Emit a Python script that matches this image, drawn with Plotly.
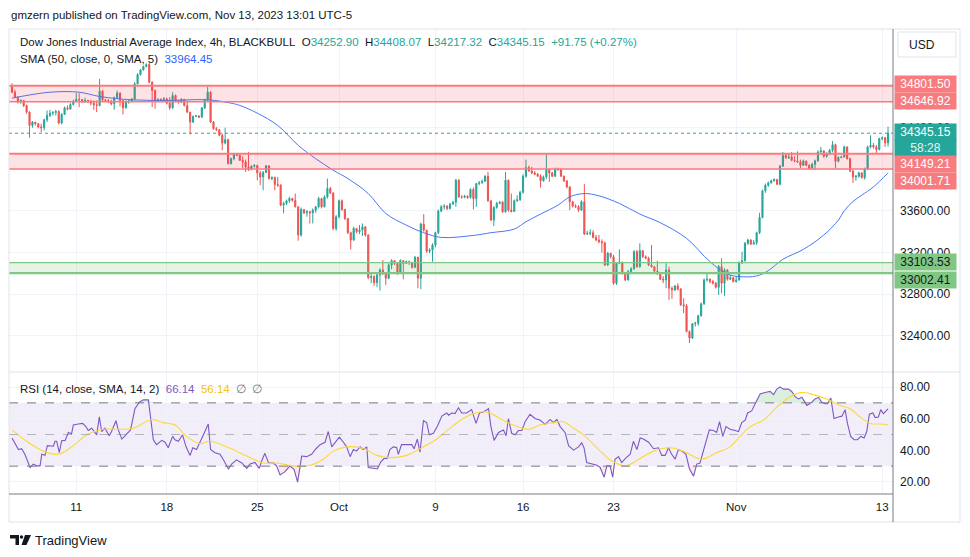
import plotly.graph_objects as go

W, H = 970, 557
UP, DOWN = "#26a69a", "#ef5350"

# ---- 4h candles (open = previous close) ----
first_open = 34803
closes = [
    34739, 34691, 34644, 34660, 34612, 34548, 34420, 34452, 34436, 34404,
    34398, 34474, 34516, 34538, 34545, 34554, 34443, 34526, 34589, 34577,
    34621, 34653, 34669, 34666, 34653, 34660, 34650, 34634, 34618, 34612,
    34749, 34666, 34660, 34650, 34628, 34685, 34730, 34660, 34589, 34644,
    34653, 34672, 34819, 34908, 34953, 34985, 35004, 34835, 34755, 34653,
    34669, 34666, 34675, 34634, 34589, 34707, 34660, 34644, 34669, 34612,
    34548, 34452, 34506, 34510, 34500, 34589, 34666, 34739, 34452, 34388,
    34379, 34325, 34251, 34283, 34053, 34101, 34143, 34133, 34085, 34069,
    34022, 33996, 34028, 34037, 33964, 33926, 33967, 34031, 33910, 33920,
    33852, 33846, 33655, 33671, 33696, 33718, 33702, 33639, 33368, 33613,
    33581, 33591, 33581, 33607, 33639, 33718, 33639, 33734, 33814, 33773,
    33431, 33543, 33696, 33613, 33527, 33390, 33320, 33431, 33400, 33415,
    33447, 33368, 32959, 32969, 32911, 32985, 33033, 32994, 32953, 33080,
    33122, 33096, 33001, 33122, 33096, 33112, 33103, 33058, 33154, 32953,
    33473, 33415, 33211, 33224, 33272, 33390, 33597, 33639, 33645, 33623,
    33664, 33683, 33894, 33734, 33731, 33741, 33728, 33805, 33718, 33862,
    33868, 33884, 33932, 33696, 33511, 33632, 33671, 33683, 33591, 33894,
    33607, 33594, 33696, 33706, 33779, 33932, 34015, 33983, 33964, 33951,
    33932, 33888, 33926, 33996, 33964, 33932, 34002, 33999, 33932, 33888,
    33830, 33687, 33645, 33639, 33607, 33687, 33377, 33384, 33390, 33345,
    33320, 33304, 33294, 33080, 33192, 33160, 32905, 33096, 33109, 33001,
    32937, 33017, 33045, 33208, 33064, 33218, 33160, 33144, 33080, 33064,
    33020, 32994, 32943, 32937, 33033, 32857, 32841, 32879, 32848, 32698,
    32688, 32442, 32379, 32516, 32522, 32592, 32707, 32937, 32943, 32921,
    32905, 32867, 33064, 32905, 33033, 32943, 32959, 32921, 32937, 33103,
    33122, 33288, 33320, 33282, 33294, 33390, 33537, 33792, 33846, 33868,
    33888, 33900, 33856, 34028, 34133, 34111, 34117, 34085, 34079, 34069,
    34037, 34079, 34037, 34006, 34047, 34079, 34165, 34175, 34124, 34143,
    34181, 34235, 34076, 34111, 34117, 34213, 34101, 33983, 33926, 33932,
    33964, 33919, 34002, 34213, 34229, 34213, 34188, 34293, 34302, 34252.90,
    34345.15,
]
highs = [
    34825, 34762, 34700, 34672, 34660, 34620, 34555, 34462, 34452, 34443,
    34436, 34484, 34564, 34570, 34557, 34570, 34565, 34538, 34602, 34612,
    34634, 34666, 34730, 34730, 34675, 34685, 34666, 34666, 34660, 34660,
    34867, 34762, 34675, 34672, 34666, 34698, 34755, 34739, 34666, 34660,
    34666, 34685, 34835, 34921, 34963, 34994, 35017, 35023, 34845, 34765,
    34682, 34682, 34691, 34685, 34691, 34739, 34717, 34666, 34682, 34675,
    34660, 34548, 34516, 34522, 34519, 34596, 34675, 34793, 34749, 34462,
    34404, 34385, 34340, 34398, 34293, 34111, 34149, 34149, 34143, 34124,
    34092, 34165, 34037, 34047, 34037, 33983, 33983, 34041, 34040, 33932,
    33930, 33926, 33856, 33687, 33709, 33734, 33725, 33766, 33639, 33632,
    33613, 33607, 33600, 33623, 33645, 33734, 33725, 33750, 33910, 33830,
    33773, 33559, 33709, 33709, 33620, 33527, 33400, 33447, 33431, 33463,
    33479, 33454, 33374, 32994, 32982, 33001, 33049, 33128, 33007, 33096,
    33135, 33128, 33109, 33135, 33128, 33122, 33122, 33112, 33167, 33160,
    33486, 33568, 33415, 33240, 33288, 33400, 33613, 33655, 33664, 33655,
    33677, 33696, 33907, 33905, 33750, 33753, 33747, 33817, 33824, 33868,
    33888, 33900, 33942, 33974, 33702, 33645, 33687, 33696, 33696, 33974,
    33900, 33766, 33709, 33750, 33792, 33951, 34092, 34034, 34022, 33983,
    33964, 33951, 33939, 34149, 34006, 33974, 34015, 34015, 34002, 33939,
    33894, 33837, 33696, 33664, 33655, 33702, 33856, 33409, 33422, 33415,
    33368, 33368, 33326, 33304, 33205, 33198, 33176, 33109, 33230, 33109,
    33007, 33033, 33058, 33224, 33224, 33288, 33224, 33173, 33160, 33272,
    33071, 33122, 33014, 32975, 33096, 33064, 32873, 32889, 32905, 32860,
    32761, 32707, 32452, 32522, 32535, 32602, 32720, 32950, 33001, 32953,
    32937, 32918, 33080, 33144, 33049, 33039, 32985, 32962, 32975, 33115,
    33208, 33301, 33332, 33326, 33320, 33400, 33581, 33805, 33862, 33881,
    33900, 33913, 33907, 34041, 34165, 34143, 34143, 34165, 34124, 34171,
    34092, 34092, 34079, 34047, 34060, 34092, 34181, 34213, 34181, 34162,
    34194, 34270, 34245, 34124, 34130, 34226, 34219, 34111, 33990, 33945,
    33977, 33971, 34015, 34226, 34325, 34251, 34232, 34302, 34315, 34309,
    34408.07,
]
lows = [
    34730, 34685, 34630, 34628, 34596, 34532, 34302, 34398, 34420, 34392,
    34356, 34372, 34452, 34500, 34516, 34516, 34430, 34430, 34526, 34564,
    34570, 34612, 34644, 34596, 34634, 34634, 34634, 34612, 34570, 34548,
    34602, 34653, 34644, 34634, 34612, 34570, 34675, 34602, 34526, 34580,
    34628, 34644, 34660, 34813, 34899, 34947, 34978, 34825, 34596, 34580,
    34644, 34653, 34660, 34621, 34570, 34580, 34644, 34628, 34634, 34602,
    34538, 34334, 34443, 34500, 34490, 34492, 34580, 34655, 34443, 34379,
    34366, 34315, 34181, 34238, 34047, 34045, 34085, 34124, 34079, 34006,
    33974, 33983, 33990, 34015, 33894, 33846, 33798, 33964, 33900, 33894,
    33798, 33830, 33645, 33575, 33655, 33677, 33687, 33632, 33313, 33352,
    33569, 33543, 33479, 33479, 33581, 33623, 33623, 33632, 33718, 33760,
    33415, 33409, 33527, 33600, 33511, 33377, 33230, 33313, 33384, 33377,
    33358, 33352, 32943, 32905, 32879, 32867, 32835, 32985, 32889, 32943,
    33039, 33080, 32985, 32994, 32943, 33090, 33080, 33045, 33050, 32857,
    32848, 33400, 33198, 33192, 33112, 33250, 33377, 33588, 33613, 33607,
    33613, 33661, 33639, 33725, 33718, 33722, 33715, 33718, 33613, 33639,
    33846, 33862, 33878, 33687, 33505, 33454, 33620, 33664, 33581, 33581,
    33591, 33585, 33591, 33687, 33696, 33766, 33919, 33974, 33951, 33942,
    33926, 33824, 33881, 33907, 33878, 33926, 33926, 33983, 33926, 33878,
    33817, 33607, 33632, 33626, 33591, 33600, 33368, 33368, 33364, 33336,
    33307, 33288, 33198, 33071, 33071, 33144, 32889, 32889, 33090, 32988,
    32924, 32930, 33007, 33033, 33052, 33055, 33147, 33135, 33071, 33055,
    33014, 32985, 32937, 32905, 32857, 32745, 32755, 32830, 32835, 32688,
    32618, 32433, 32331, 32370, 32490, 32497, 32586, 32698, 32921, 32905,
    32892, 32854, 32793, 32809, 32784, 32930, 32935, 32911, 32911, 32930,
    33090, 33112, 33272, 33272, 33275, 33272, 33377, 33527, 33773, 33830,
    33862, 33881, 33846, 33846, 34022, 34098, 34098, 34076, 34066, 34060,
    34006, 34034, 34028, 33996, 34003, 33990, 34073, 34159, 34111, 34111,
    34136, 34162, 34006, 34066, 34105, 34111, 34092, 33971, 33868, 33888,
    33919, 33910, 33900, 33990, 34200, 34197, 34156, 34181, 34277, 34213,
    34217.32,
]
opens = [first_open] + closes[:-1]
bars = list(range(len(closes)))

# ---- SMA 50 ----
sma_t = [0, 13, 23, 30, 41, 53, 67, 75, 78, 84, 91, 98, 104, 110, 115, 122, 128,
         135, 141, 147, 158, 164, 172, 176, 181, 187, 191, 196, 201, 208, 215, 222,
         231, 239, 245, 249, 255, 259, 264, 271, 278, 283, 285, 288, 291, 295, 300]
sma_v = [34682, 34739, 34739, 34698, 34666, 34660, 34666, 34634, 34612, 34538, 34420,
         34229, 34101, 33990, 33910, 33766, 33575, 33463, 33390, 33345, 33364, 33390,
         33425, 33495, 33569, 33655, 33734, 33766, 33744, 33671, 33569, 33486, 33336,
         33112, 32994, 32969, 32975, 33026, 33135, 33230, 33368, 33511, 33600, 33690,
         33750, 33830, 33964.45]

# ---- RSI 14 and its SMA 14 ----
rsi_t = [0, 2.2, 3.3, 4.4, 6.2, 7.3, 8.4, 9.6, 10.2, 11.3, 12.1, 13, 14.2, 14.7, 15.3,
         16.2, 17, 18.2, 19.3, 20.4, 21, 22.7, 24.2, 25.3, 26.1, 27.3, 29, 29.9, 30.7,
         31.8, 33.3, 34.1, 35.6, 36.4, 37.6, 39, 40.6, 42.1, 43.6, 45, 46.7, 48.4, 49.5,
         51.3, 52.4, 53.5, 55, 55.8, 57, 58.4, 59.6, 61, 61.9, 63.2, 64.2, 65, 65.8,
         67.2, 68, 69.5, 71.2, 72.4, 74.1, 75.2, 76.9, 78.7, 80.4, 81.5, 83.2, 84.7,
         85.5, 86.6, 87.8, 89.5, 90.6, 91.8, 93.5, 95.2, 96.6, 97.8, 99.2, 100.9, 102.6,
         104.1, 105.5, 107.2, 108.3, 109.5, 110.6, 112.1, 113.5, 114.6, 115.8, 116.9,
         118, 119.2, 120.3, 121.5, 122, 123.5, 125.1, 126.3, 127.4, 128.5, 129.4, 130.6,
         131.7, 132.3, 133.4, 135.4, 136.9, 137.7, 138.8, 139.7, 140.9, 142, 142.9,
         144.3, 145.7, 147.2, 148.9, 149.5, 150.6, 151.7, 152.9, 154, 155.7, 157.4,
         158.9, 160.1, 161.4, 163.2, 164, 165.1, 166.6, 168.3, 169.2, 170, 171.1, 172.3,
         173.4, 174.6, 175.7, 177.4, 179.1, 180.8, 182.6, 184.3, 185.4, 186.6, 187.7,
         189.4, 190.6, 192.3, 194, 195.1, 195.9, 196.8, 198.5, 200.3, 201.4, 202.8,
         203.7, 204.8, 205.7, 206.5, 207.7, 208.8, 210, 211.7, 212.8, 214, 215.1, 216.2,
         218, 219.7, 221.4, 222.5, 223.7, 224.8, 225.9, 227.1, 228.2, 229.4, 230.8, 232,
         233.4, 234.5, 235.6, 236.8, 237.9, 238.8, 240.2, 241.3, 242.3, 243.4, 244.5,
         245.9, 247.6, 248.8, 249.9, 251.1, 251.9, 253.3, 254.5, 256.2, 257.9, 259.6,
         260.8, 261.9, 263, 264.2, 265.9, 267, 268.2, 269.3, 270.5, 272.2, 273.9, 275,
         276.2, 277.3, 278.5, 279.3, 280.4, 281.5, 283, 284.2, 285.3, 286.1, 287.2,
         288.4, 289.5, 290.7, 291.8, 292.7, 293.6, 294.8, 295.6, 296.7, 297.5, 298.4, 300]
rsi_v = [47.8, 40.5, 41, 37.5, 29.2, 31.3, 30.2, 30.2, 37.5, 36.8, 43, 43, 42.6, 45.7, 45.7,
         38.5, 46.1, 46.3, 51.3, 50.5, 56, 56.6, 57, 55, 52.5, 54, 49.8, 61.1, 51.9,
         54, 49.2, 51.9, 58.7, 52.9, 47.1, 49.8, 52.9, 66.3, 70.4, 71.9, 71.9, 46.7, 43.6,
         46.3, 45.1, 41.6, 48.8, 46.7, 45.7, 49.8, 42.2, 36.8, 41.6, 40.5, 44.2, 47.8, 50.8,
         56.6, 40.5, 38.5, 37.5, 34, 28.2, 31.3, 34, 32, 28.6, 31.3, 32.3, 28.6,
         33.3, 38.1, 32.3, 32, 30.2, 24.5, 26.5, 30.2, 27.8, 19.9, 36.4, 36, 37.5,
         41, 43.6, 45.1, 51.9, 42.2, 44.7, 48.4, 45.1, 42.2, 36, 40.5,
         39.5, 42.2, 40.5, 42.2, 29.2, 28.6, 28.2, 32.7, 34.8, 34.8, 40.5, 42.2,
         41.8, 37.5, 43.6, 43.6, 43.6, 41, 47.1, 38.9, 58.7, 57.5, 49.8,
         50.8, 55.4, 61.6, 63.6, 62.2, 63.6, 63.2, 66.9, 63.6, 63.6, 65.7,
         57, 63.6, 64.2, 66.3, 55, 46.3, 51.3, 52.9, 49.2, 60.1, 50.8, 49.8,
         52.5, 52.5, 58.1, 62.8, 60.1, 59.1, 56.4, 59.5, 57.5, 59.5, 55,
         51.3, 43, 40.1, 42.2, 44.7, 41.6, 32.3, 31.3, 30.6, 29.2, 23,
         30.2, 30.2, 23, 34.4, 36, 32.3, 34.8, 37.5, 45.7, 40.5, 47.8, 47.1,
         45.1, 41, 41.6, 36.8, 36.8, 41.6, 37.5, 34.4, 40.5, 39.5, 37.5, 28.2,
         23.7, 31.3, 32, 39.5, 45.7, 52.9, 52.5, 51.3, 58.1, 48.8, 55,
         53.3, 52.5, 51.9, 57.5, 59.1, 63.6, 64.9, 69.4, 75.6, 76.6, 77.2,
         75.2, 78.7, 80.1, 78.7, 78.7, 77.2, 73.9, 72.5, 73.5, 68.4, 70.4, 72.5,
         73.5, 70.4, 69.4, 69.4, 73.1, 60.1, 61.1, 61.6, 65.7, 57, 48.8,
         46.7, 46.7, 48.8, 47.8, 51.9, 62.8, 63.6, 60.7, 61.1, 65.7, 63.2, 66.14]
rsi_ma_t = [0, 5, 10.7, 15.9, 21, 25.6, 31.3, 37, 41.6, 47.8, 51.8, 55.8, 59.8, 64.4, 67.8,
            73.5, 80.4, 86.1, 90.6, 96.4, 102.1, 106.6, 110, 114.6, 120.3, 124.9, 128.9,
            135.2, 139.7, 144.3, 146.6, 150, 154, 158, 162.6, 167.1, 171.7, 176.9, 180.8,
            185.4, 188.8, 192.3, 195.7, 200.3, 204.8, 210, 215.1, 219.7, 225.4, 229.9,
            236.2, 241.3, 245.9, 249.3, 252.8, 257.3, 261.9, 266.5, 270.5, 274.5, 279,
            283.6, 287, 290.4, 293.9, 297.3, 300]
rsi_ma_v = [52.9, 45.7, 39.5, 37.5, 43, 49.8, 53.3, 53.3, 54, 59.5, 57.5, 56, 48.8, 44.2, 45.7,
            42.2, 36.4, 32, 32, 30.2, 30.6, 34.4, 39.5, 42.2, 41.2, 36.8, 35.4,
            36.8, 41, 45.7, 48.8, 54, 59.5, 63.2, 64.2, 60.1, 56, 53.3, 56,
            57.5, 58.1, 54, 49.8, 41.6, 34, 30.2, 34.8, 39.5, 41.6, 39.5,
            34.4, 38.5, 42.2, 48.8, 55, 59.1, 67.3, 73.9, 76.6, 75.2, 72.5,
            68.4, 66.3, 61.1, 57, 56.6, 56.14]

tick_bars = [22, 53, 84, 112, 145, 175, 206, 248, 298]
tick_text = ["11", "18", "25", "Oct", "9", "16", "23", "Nov", "13"]
price_ticks = [32400, 32800, 33200, 33600, 34000, 34400, 34800]
hidden_price_ticks = [34000, 34800]   # covered by the zone labels on the price scale
rsi_ticks = [20, 40, 60, 80]

red_zones = [(34646.92, 34801.50), (34001.71, 34149.21)]
green_zone = (33002.41, 33103.53)


def px(x):
    return x / W


def py(y):
    return 1 - y / H


X0, X1, XR = 9, 893, 960
TOP, SEP, BOT, FOOT = 29, 372, 494, 522

fig = go.Figure()
fig.add_trace(go.Candlestick(
    x=bars, open=opens, high=highs, low=lows, close=closes,
    increasing=dict(line=dict(color=UP, width=1), fillcolor=UP),
    decreasing=dict(line=dict(color=DOWN, width=1), fillcolor=DOWN),
    whiskerwidth=0, xaxis="x", yaxis="y", hoverinfo="skip"))
fig.add_trace(go.Scatter(x=sma_t, y=sma_v, mode="lines", xaxis="x", yaxis="y",
                         line=dict(color="#4a78f5", width=1, shape="spline")))

# RSI overbought / oversold fills
fig.add_trace(go.Scatter(x=rsi_t, y=[70] * len(rsi_t), mode="lines", line=dict(width=0),
                         xaxis="x2", yaxis="y2"))
fig.add_trace(go.Scatter(x=rsi_t, y=[max(v, 70) for v in rsi_v], mode="lines",
                         line=dict(width=0), fill="tonexty",
                         fillcolor="rgba(76,175,80,0.2)", xaxis="x2", yaxis="y2"))
fig.add_trace(go.Scatter(x=rsi_t, y=[30] * len(rsi_t), mode="lines", line=dict(width=0),
                         xaxis="x2", yaxis="y2"))
fig.add_trace(go.Scatter(x=rsi_t, y=[min(v, 30) for v in rsi_v], mode="lines",
                         line=dict(width=0), fill="tonexty",
                         fillcolor="rgba(242,54,69,0.12)", xaxis="x2", yaxis="y2"))
fig.add_trace(go.Scatter(x=rsi_t, y=rsi_v, mode="lines", xaxis="x2", yaxis="y2",
                         line=dict(color="#7e57c2", width=1.1)))
fig.add_trace(go.Scatter(x=rsi_ma_t, y=rsi_ma_v, mode="lines", xaxis="x2", yaxis="y2",
                         line=dict(color="#fdd835", width=1.1, shape="spline")))

shapes = []
# zones
for lo, hi in red_zones:
    shapes.append(dict(type="rect", xref="x domain", yref="y", x0=0, x1=1, y0=lo, y1=hi,
                       fillcolor="rgba(242,54,69,0.14)", line=dict(width=0), layer="above"))
    shapes.append(dict(type="line", xref="x domain", yref="y", x0=0, x1=1, y0=hi, y1=hi,
                       line=dict(color="#f77c80", width=2), layer="above"))
    shapes.append(dict(type="line", xref="x domain", yref="y", x0=0, x1=1, y0=lo, y1=lo,
                       line=dict(color="#f77c80", width=1.6), layer="above"))
lo, hi = green_zone
shapes.append(dict(type="rect", xref="x domain", yref="y", x0=0, x1=1, y0=lo, y1=hi,
                   fillcolor="rgba(76,175,80,0.14)", line=dict(width=0), layer="above"))
shapes.append(dict(type="line", xref="x domain", yref="y", x0=0, x1=1, y0=hi, y1=hi,
                   line=dict(color="#81c784", width=1.2), layer="above"))
shapes.append(dict(type="line", xref="x domain", yref="y", x0=0, x1=1, y0=lo, y1=lo,
                   line=dict(color="#81c784", width=2.4), layer="above"))
# last price dotted line
shapes.append(dict(type="line", xref="x domain", yref="y", x0=0, x1=1,
                   y0=closes[-1], y1=closes[-1], line=dict(color=UP, width=1, dash="dot")))
# RSI band and levels
shapes.append(dict(type="rect", xref="x2 domain", yref="y2", x0=0, x1=1, y0=30, y1=70,
                   fillcolor="rgba(126,87,194,0.1)", line=dict(width=0), layer="below"))
for lvl, col in [(70, "#787b86"), (50, "rgba(120,123,134,0.5)"), (30, "#787b86")]:
    shapes.append(dict(type="line", xref="x2 domain", yref="y2", x0=0, x1=1, y0=lvl, y1=lvl,
                       line=dict(color=col, width=1, dash="dash")))
# frame
light, dark = "#e0e3eb", "#787b86"
for (xa, ya, xb, yb, c) in [
    (X0, TOP, XR, TOP, light), (X0, SEP, XR, SEP, light), (X0, FOOT, XR, FOOT, light),
    (X0, TOP, X0, FOOT, light), (XR, TOP, XR, FOOT, light),
    (X0, BOT, X1, BOT, dark), (X1, TOP, X1, FOOT, dark)]:
    shapes.append(dict(type="line", xref="paper", yref="paper", x0=px(xa), y0=py(ya),
                       x1=px(xb), y1=py(yb), line=dict(color=c, width=1)))
# USD box
shapes.append(dict(type="rect", xref="paper", yref="paper", x0=px(898), x1=px(956),
                   y0=py(57), y1=py(32), line=dict(color=light, width=1),
                   fillcolor="white"))
# TradingView logo glyph
ink = "#131722"
shapes.append(dict(type="path", xref="paper", yref="paper", fillcolor=ink,
                   line=dict(width=0),
                   path=f"M{px(10)},{py(535)} L{px(19)},{py(535)} L{px(19)},{py(545)} "
                        f"L{px(15.5)},{py(545)} L{px(15.5)},{py(538.5)} L{px(10)},{py(538.5)} Z"))
shapes.append(dict(type="circle", xref="paper", yref="paper", fillcolor=ink,
                   line=dict(width=0), x0=px(19.8), x1=px(23.2), y0=py(538.7), y1=py(535.3)))
shapes.append(dict(type="path", xref="paper", yref="paper", fillcolor=ink,
                   line=dict(width=0),
                   path=f"M{px(25)},{py(535)} L{px(31)},{py(535)} L{px(26.5)},{py(545)} "
                        f"L{px(21.5)},{py(545)} Z"))

ann = []


def text(x, y, s, size=11.5, color=ink, xanchor="left"):
    ann.append(dict(xref="paper", yref="paper", x=px(x), y=py(y), text=s, showarrow=False,
                    xanchor=xanchor, yanchor="middle", font=dict(size=size, color=color)))


def span(s, c):
    return f"<span style='color:{c}'>{s}</span>"


sp = "\u00a0\u00a0"
text(9, 15, "gmzern published on TradingView.com, Nov 13, 2023 13:01 UTC-5")
text(18, 42, "Dow Jones Industrial Average Index, 4h, BLACKBULL" + sp
     + "O" + span(f"{opens[-1]:.2f}", UP) + sp + "H" + span(f"{highs[-1]:.2f}", UP) + sp
     + "L" + span(f"{lows[-1]:.2f}", UP) + sp + "C" + span(f"{closes[-1]:.2f}", UP) + sp
     + span("+91.75 (+0.27%)", UP))
text(18, 59, "SMA (50, close, 0, SMA, 5)" + sp + span(f"{sma_v[-1]:.2f}", "#2962ff"))
text(18, 389, "RSI (14, close, SMA, 14, 2)" + sp + span(f"{rsi_v[-1]:.2f}", "#7e57c2") + sp
     + span(f"{rsi_ma_v[-1]:.2f}", "#f0c419") + sp + span("\u2205" + sp + "\u2205", "#787b86"))
text(907, 45, "USD", size=12)
text(33, 540, "TradingView", size=13)


def price_label(val, bg, fg, shift=0, s=None):
    ann.append(dict(xref="paper", yref="y", x=px(894), y=val, yshift=shift,
                    text=s if s else f"{val:.2f}", showarrow=False, xanchor="left",
                    yanchor="middle", width=57, height=12, borderpad=2, bgcolor=bg,
                    align="center", font=dict(size=12, color=fg)))


RED_LBL, GRN_LBL = "#f77c80", "#81c784"
price_label(red_zones[0][1], RED_LBL, "white", 1.7)
price_label(red_zones[0][0], RED_LBL, "white", 0.8)
price_label(closes[-1], UP, "white", 1.2)
price_label(closes[-1], UP, "#e6f5f3", -14.8, "58:28")
price_label(red_zones[1][1], RED_LBL, "white", -10.4)
price_label(red_zones[1][0], RED_LBL, "white", -12)
price_label(green_zone[1], GRN_LBL, ink, 0.6)
price_label(green_zone[0], GRN_LBL, ink, -6.9)

grid = "#f0f3fa"
fig.update_layout(
    width=W, height=H, margin=dict(l=0, r=0, t=0, b=0),
    paper_bgcolor="white", plot_bgcolor="white", showlegend=False, hovermode=False,
    font=dict(family="Liberation Sans, Arial, sans-serif", size=11.5, color=ink),
    boxgap=0.45,
    xaxis=dict(domain=[px(X0), px(X1)], range=[-1.03, 301.7], tickvals=tick_bars,
               showticklabels=False, showgrid=True, gridcolor=grid, zeroline=False,
               rangeslider=dict(visible=False), anchor="y"),
    yaxis=dict(domain=[py(SEP), py(TOP)], range=[32052.9, 35345.7], side="right",
               tickvals=price_ticks,
               ticktext=["" if v in hidden_price_ticks else f"{v:.2f}" for v in price_ticks],
               showgrid=True, gridcolor=grid, zeroline=False, ticks="",
               ticklabelstandoff=6, anchor="x", tickfont=dict(size=12, color=ink)),
    xaxis2=dict(domain=[px(X0), px(X1)], matches="x", anchor="y2", tickvals=tick_bars,
                ticktext=tick_text, showgrid=True, gridcolor=grid, zeroline=False,
                ticks="", ticklabelstandoff=4, tickfont=dict(size=11.5, color=ink)),
    yaxis2=dict(domain=[py(BOT), py(SEP)], range=[12.4, 89.5], side="right",
                tickvals=rsi_ticks, ticktext=[f"{v:.2f}" for v in rsi_ticks],
                showgrid=True, gridcolor=grid, zeroline=False, ticks="",
                ticklabelstandoff=6, anchor="x2", tickfont=dict(size=12, color=ink)),
    shapes=shapes, annotations=ann,
)

# the page's default body margin would offset the chart by 8px
fig.write_html("out.html", config={"displayModeBar": False},
               post_script="document.body.style.margin='0px';")
